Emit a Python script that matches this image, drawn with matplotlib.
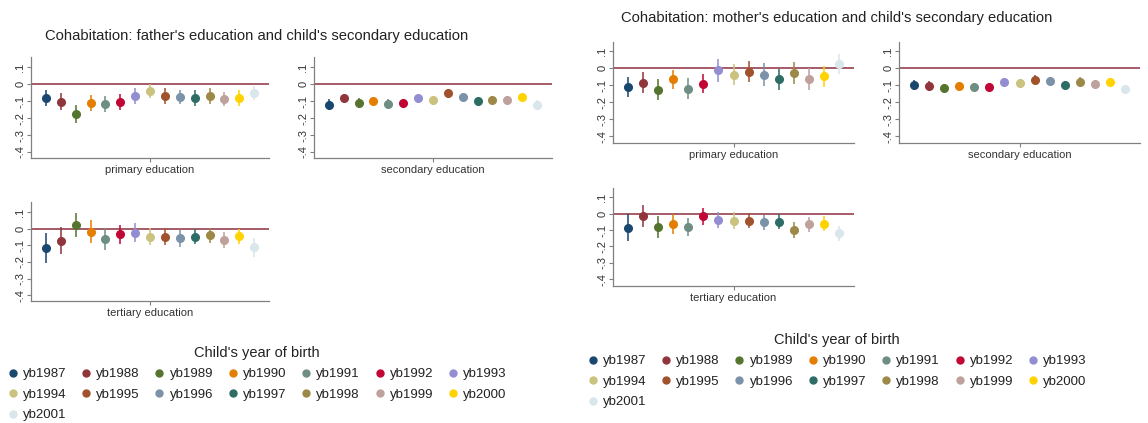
import numpy as np
import matplotlib
matplotlib.use("Agg")
import matplotlib.pyplot as plt
from matplotlib.lines import Line2D

plt.rcParams['font.family'] = ['Liberation Sans', 'DejaVu Sans']

years = ['yb1987', 'yb1988', 'yb1989', 'yb1990', 'yb1991', 'yb1992', 'yb1993',
         'yb1994', 'yb1995', 'yb1996', 'yb1997', 'yb1998', 'yb1999', 'yb2000', 'yb2001']
colors = ['#1a476f', '#90353b', '#55752f', '#e37e00', '#6e8e84', '#c10534', '#938dd2',
          '#cac27e', '#a0522d', '#7b92a8', '#2d6d66', '#9c8847', '#bfa19c', '#ffd200', '#d9e6eb']

# father's education: coefficients and half-widths of the 95% CIs
fa_primary = [-0.082, -0.104, -0.175, -0.110, -0.116, -0.104, -0.071, -0.039,
              -0.071, -0.075, -0.082, -0.071, -0.090, -0.082, -0.051]
fa_primary_ci = [0.04, 0.045, 0.048, 0.04, 0.04, 0.04, 0.04, 0.035,
                 0.04, 0.035, 0.04, 0.04, 0.035, 0.04, 0.035]
fa_secondary = [-0.120, -0.084, -0.110, -0.102, -0.116, -0.112, -0.084, -0.096,
                -0.055, -0.075, -0.102, -0.094, -0.092, -0.075, -0.120]
fa_secondary_ci = [0.025, 0.022, 0.022, 0.02, 0.02, 0.02, 0.02, 0.02,
                   0.02, 0.018, 0.018, 0.018, 0.018, 0.018, 0.018]
fa_tertiary = [-0.115, -0.073, 0.020, -0.018, -0.060, -0.034, -0.024, -0.048,
               -0.048, -0.058, -0.048, -0.040, -0.068, -0.046, -0.113]
fa_tertiary_ci = [0.085, 0.075, 0.065, 0.065, 0.06, 0.05, 0.05, 0.045,
                  0.045, 0.045, 0.04, 0.04, 0.04, 0.04, 0.05]

# mother's education
mo_primary = [-0.110, -0.084, -0.125, -0.065, -0.120, -0.090, -0.012, -0.037,
              -0.020, -0.037, -0.065, -0.027, -0.063, -0.047, 0.025]
mo_primary_ci = [0.055, 0.055, 0.055, 0.05, 0.055, 0.05, 0.06, 0.055,
                 0.055, 0.06, 0.055, 0.06, 0.06, 0.055, 0.055]
mo_secondary = [-0.098, -0.104, -0.118, -0.104, -0.110, -0.110, -0.082, -0.088,
                -0.067, -0.076, -0.098, -0.078, -0.092, -0.080, -0.120]
mo_secondary_ci = [0.025, 0.022, 0.022, 0.02, 0.02, 0.02, 0.02, 0.02,
                   0.02, 0.018, 0.018, 0.018, 0.018, 0.018, 0.018]
mo_tertiary = [-0.085, -0.017, -0.082, -0.062, -0.082, -0.016, -0.039, -0.043,
               -0.043, -0.054, -0.049, -0.100, -0.066, -0.062, -0.120]
mo_tertiary_ci = [0.075, 0.06, 0.06, 0.055, 0.05, 0.045, 0.045, 0.045,
                  0.04, 0.04, 0.04, 0.04, 0.04, 0.04, 0.04]

yticks = [-0.4, -0.3, -0.2, -0.1, 0.0, 0.1]
ytick_labels = ['-.4', '-.3', '-.2', '-.1', '0', '.1']

W, H = 1148, 423
fig = plt.figure(figsize=(W / 100, H / 100), dpi=100)


def px_axes(left, top, right, bottom):
    return fig.add_axes([left / W, 1 - bottom / H, (right - left) / W, (bottom - top) / H])


def coefplot(ax, vals, cis, label, ylim):
    x = np.arange(len(vals)) - 7
    ax.axhline(0, color='#8c2f3f', lw=1.1, zorder=1)
    for xi, v, c, col in zip(x, vals, cis, colors):
        ax.plot([xi, xi], [v - c, v + c], color=col, lw=1.4, alpha=0.8, zorder=2)
        ax.plot(xi, v, 'o', color=col, ms=5.5, mec=col, zorder=3)
    ax.set_xlim(-8, 8)
    ax.set_ylim(*ylim)
    ax.set_yticks(yticks)
    ax.set_yticklabels(ytick_labels, rotation=90, va='center')
    ax.set_xticks([0])
    ax.set_xticklabels([label])
    for s in ['top', 'right']:
        ax.spines[s].set_visible(False)
    for s in ['left', 'bottom']:
        ax.spines[s].set_color('#808080')
        ax.spines[s].set_linewidth(0.9)
    ax.tick_params(axis='both', colors='#808080', labelcolor='#333333',
                   labelsize=8, length=3, width=0.8, pad=2)
    ax.tick_params(axis='y', pad=1.2)


# father panel
coefplot(px_axes(31, 57, 269, 158), fa_primary, fa_primary_ci, 'primary education', (-0.435, 0.16))
coefplot(px_axes(314, 57, 552, 158), fa_secondary, fa_secondary_ci, 'secondary education', (-0.435, 0.16))
coefplot(px_axes(31, 202, 269, 301), fa_tertiary, fa_tertiary_ci, 'tertiary education', (-0.435, 0.16))
fig.text(257 / W, 1 - 36 / H, "Cohabitation: father's education and child's secondary education",
         ha='center', va='center', fontsize=10.6, color='#222222')

# mother panel
coefplot(px_axes(613, 42, 854, 143), mo_primary, mo_primary_ci, 'primary education', (-0.44, 0.155))
coefplot(px_axes(899, 42, 1140, 143), mo_secondary, mo_secondary_ci, 'secondary education', (-0.44, 0.155))
coefplot(px_axes(613, 188, 854, 286), mo_tertiary, mo_tertiary_ci, 'tertiary education', (-0.44, 0.155))
fig.text(837 / W, 1 - 18 / H, "Cohabitation: mother's education and child's secondary education",
         ha='center', va='center', fontsize=10.6, color='#222222')

# legends, reordered so entries read across rows
handles = [Line2D([], [], marker='o', ls='none', color=c, ms=5) for c in colors]
order = []
ncol = 7
for col in range(ncol):
    order.extend(range(col, len(years), ncol))
for cx, ty in [(257, 346), (837, 333)]:
    leg = fig.legend([handles[i] for i in order], [years[i] for i in order],
                     loc='upper center', bbox_to_anchor=(cx / W, 1 - ty / H),
                     ncol=ncol, frameon=False, fontsize=9.5, title="Child's year of birth",
                     title_fontsize=10.5, handlelength=0.8, handletextpad=0.36,
                     columnspacing=1.1, labelspacing=0.62, borderpad=0, borderaxespad=0)
    for t in leg.get_texts():
        t.set_color('#222222')
    leg.get_title().set_color('#222222')

fig.savefig('out.png', dpi=100)
